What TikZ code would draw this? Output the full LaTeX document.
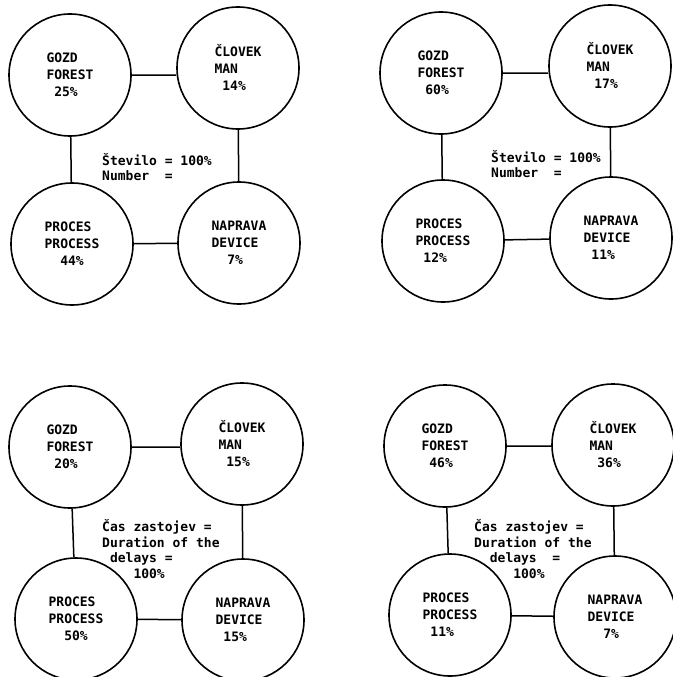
\documentclass[tikz,border=0pt]{standalone}
\usepackage{fontspec}
\usepackage{tikz}
\newfontfamily\typemono{DejaVu Sans Mono}

\begin{document}
\begin{tikzpicture}[x=1pt,y=-1pt,
    ring/.style={draw,circle,line width=1.6pt,minimum size=122pt,inner sep=0pt,
      align=left,font=\fontsize{13}{17}\typemono\bfseries},
    note/.style={anchor=west,inner sep=0pt,align=left,
      font=\fontsize{13}{15.5}\typemono\bfseries},
    link/.style={line width=1.5pt}]
    \useasboundingbox (0,0) rectangle (672,677);
    % number, first case
    \node[ring] (g1) at (70,75) {GOZD\\FOREST\\\phantom{0}25\%};
    \node[ring] (c1) at (238,68) {ČLOVEK\\MAN\\\phantom{0}14\%};
    \node[ring] (p1) at (72,244) {PROCES\\PROCESS\\\phantom{00}44\%};
    \node[ring] (n1) at (239,243) {NAPRAVA\\DEVICE\\\phantom{00}7\%};
    \node[note] (t1) at (102,167) {Število = 100\%\\Number~~=};
    \draw[link] (g1.east) -- (g1.east -| c1.west) (g1) -- (p1) (c1) -- (n1) (p1) -- (n1);
    % number, second case
    \node[ring] (g2) at (441,73) {GOZD\\FOREST\\\phantom{0}60\%};
    \node[ring] (c2) at (610,66) {ČLOVEK\\MAN\\\phantom{0}17\%};
    \node[ring] (p2) at (443,241) {PROCES\\PROCESS\\\phantom{0}12\%};
    \node[ring] (n2) at (611,238) {NAPRAVA\\DEVICE\\\phantom{0}11\%};
    \node[note] (t2) at (491,164) {Število = 100\%\\Number~~=};
    \draw[link] (g2.east) -- (g2.east -| c2.west) (g2) -- (p2) (c2) -- (n2) (p2) -- (n2);
    % delays, first case
    \node[ring] (g3) at (70,447) {GOZD\\FOREST\\\phantom{0}20\%};
    \node[ring] (c3) at (242,444) {ČLOVEK\\MAN\\\phantom{0}15\%};
    \node[ring] (p3) at (76,619) {PROCES\\PROCESS\\\phantom{00}50\%};
    \node[ring] (n3) at (243,620) {NAPRAVA\\DEVICE\\\phantom{0}15\%};
    \node[note] (t3) at (102,549) {Čas zastojev =\\Duration of the\\\phantom{0}delays =\\\phantom{0000}100\%};
    \draw[link] (g3.east) -- (g3.east -| c3.west) (g3) -- (p3) (c3) -- (n3) (p3) -- (n3);
    % delays, second case
    \node[ring] (g4) at (445,446) {GOZD\\FOREST\\\phantom{0}46\%};
    \node[ring] (c4) at (613,445) {ČLOVEK\\MAN\\\phantom{0}36\%};
    \node[ring] (p4) at (450,615) {PROCES\\PROCESS\\\phantom{0}11\%};
    \node[ring] (n4) at (615,617) {NAPRAVA\\DEVICE\\\phantom{00}7\%};
    \node[note] (t4) at (474,549) {Čas zastojev =\\Duration of the\\\phantom{00}delays~~=\\\phantom{00000}100\%};
    \draw[link] (g4.east) -- (g4.east -| c4.west) (g4) -- (p4) (c4) -- (n4) (p4) -- (n4);
\end{tikzpicture}
\end{document}
